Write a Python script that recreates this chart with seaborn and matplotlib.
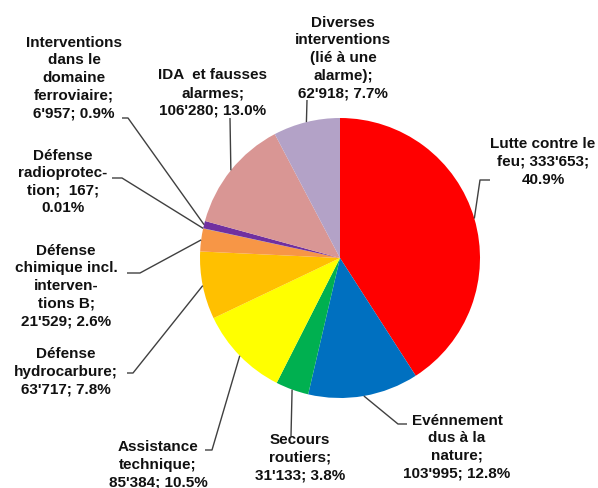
import numpy as np
import matplotlib.pyplot as plt
import seaborn as sns

# intervention categories, clockwise from 12 o'clock
categories = [
    "Lutte contre le\nfeu; 333'653;\n40.9%",
    "Evénnement\ndus à la\nnature;\n103'995; 12.8%",
    "Secours\nroutiers;\n31'133; 3.8%",
    "Assistance\ntechnique;\n85'384; 10.5%",
    "Défense\nhydrocarbure;\n63'717; 7.8%",
    "Défense\nchimique incl.\ninterven-\ntions B;\n21'529; 2.6%",
    "Défense\nradioprotec-\ntion;  167;\n0.01%",
    "Interventions\ndans le\ndomaine\nferroviaire;\n6'957; 0.9%",
    "IDA  et fausses\nalarmes;\n106'280; 13.0%",
    "Diverses\ninterventions\n(lié à une\nalarme);\n62'918; 7.7%",
]
counts = [333653, 103995, 31133, 85384, 63717, 21529, 167, 6957, 106280, 62918]
colors = ["#FF0000", "#0070C0", "#00B050", "#FFFF00", "#FFC000",
          "#F79646", "#4BACC6", "#7030A0", "#D99694", "#B3A2C7"]

# label layout (pixels, y from top): text centre, elbow of leader, leader end
text_pos = [(543, 162), (457, 447), (300, 458), (158, 465), (66, 372),
            (66, 286), (63, 182), (74, 78), (213, 93), (343, 58)]
elbows = [(480, 180), (398, 424), (291, 436), (212, 450), (133, 373),
          (140, 273), (122, 178), (128, 118), (230, 118), (307, 100)]
ends = [(490, 180), (407, 424), (291, 436), (205, 450), (127, 373),
        (127, 273), (112, 178), (122, 118), (230, 118), (307, 100)]

W, H = 598, 488
CX, CY, R = 340, 258, 140

sns.set_theme(style="white")
plt.rcParams["font.family"] = ["Liberation Sans", "DejaVu Sans"]

fig = plt.figure(figsize=(W / 100, H / 100), dpi=100)
ax = fig.add_axes([0, 0, 1, 1])

wedges, _ = ax.pie(counts, colors=colors, startangle=90, counterclock=False,
                   center=(CX, H - CY), radius=R, frame=True,
                   wedgeprops=dict(linewidth=0))
ax.set_xlim(0, W)
ax.set_ylim(0, H)
ax.set_aspect("equal")
ax.axis("off")

for w, lab, tp, el, en in zip(wedges, categories, text_pos, elbows, ends):
    mid = np.deg2rad((w.theta1 + w.theta2) / 2)
    x0 = CX + R * np.cos(mid)
    y0 = (H - CY) + R * np.sin(mid)
    ax.plot([x0, el[0], en[0]], [y0, H - el[1], H - en[1]],
            color="#404040", lw=1, solid_capstyle="butt")
    ax.text(tp[0], H - tp[1], lab, ha="center", va="center",
            fontsize=11, fontweight="bold", color="#111111",
            linespacing=1.32, multialignment="center")

fig.savefig("out.png", dpi=100, facecolor="white")
